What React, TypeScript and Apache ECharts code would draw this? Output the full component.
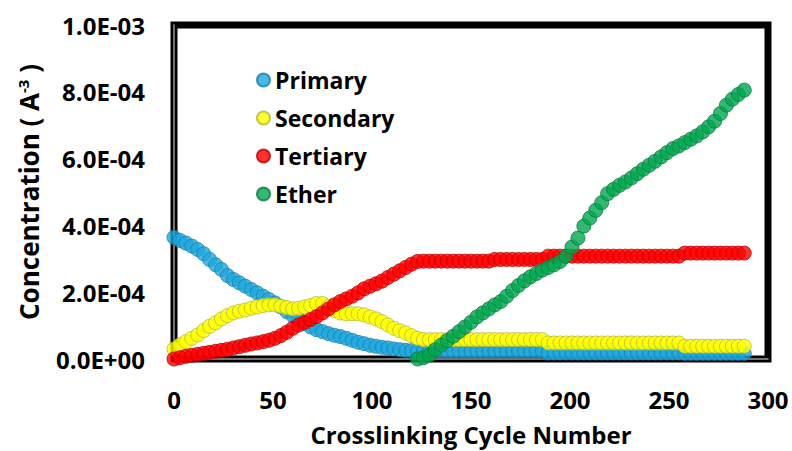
import React, { useEffect, useRef } from "react";
import * as echarts from "echarts";

const cycles = [
  0, 3, 6, 9, 12, 15, 18, 21, 24, 27, 30, 33, 36, 39, 42, 45, 48, 51, 54, 57,
  60, 63, 66, 69, 72, 75, 78, 81, 84, 87, 90, 93, 96, 99, 102, 105, 108, 111,
  114, 117, 120, 123, 126, 129, 132, 135, 138, 141, 144, 147, 150, 153, 156,
  159, 162, 165, 168, 171, 174, 177, 180, 183, 186, 189, 192, 195, 198, 201,
  204, 207, 210, 213, 216, 219, 222, 225, 228, 231, 234, 237, 240, 243, 246,
  249, 252, 255, 258, 261, 264, 267, 270, 273, 276, 279, 282, 285, 288,
];

// values in units of 1e-4 A^-3
const primary = [
  3.64, 3.55, 3.47, 3.38, 3.28, 3.15, 2.98, 2.82, 2.68, 2.5, 2.38, 2.28, 2.18,
  2.08, 1.98, 1.88, 1.78, 1.68, 1.56, 1.42, 1.3, 1.18, 1.06, 0.96, 0.88, 0.82,
  0.76, 0.71, 0.67, 0.62, 0.56, 0.5, 0.46, 0.41, 0.38, 0.35, 0.33, 0.3, 0.28,
  0.26, 0.25, 0.24, 0.24, 0.24, 0.24, 0.24, 0.24, 0.24, 0.24, 0.24, 0.24, 0.24,
  0.24, 0.24, 0.24, 0.24, 0.24, 0.24, 0.24, 0.24, 0.24, 0.24, 0.24, 0.18,
  0.18, 0.18, 0.18, 0.18, 0.18, 0.18, 0.18, 0.18, 0.18, 0.18, 0.18, 0.18,
  0.18, 0.18, 0.18, 0.18, 0.18, 0.18, 0.18, 0.18, 0.18, 0.18, 0.17, 0.17,
  0.17, 0.17, 0.17, 0.17, 0.17, 0.17, 0.17, 0.17, 0.17,
];

const secondary = [
  0.3, 0.42, 0.52, 0.62, 0.72, 0.85, 0.98, 1.08, 1.2, 1.3, 1.38, 1.43, 1.47,
  1.52, 1.56, 1.6, 1.62, 1.62, 1.58, 1.54, 1.5, 1.52, 1.56, 1.6, 1.66, 1.66,
  1.58, 1.45, 1.38, 1.35, 1.36, 1.35, 1.32, 1.26, 1.2, 1.12, 1.02, 0.92, 0.85,
  0.78, 0.7, 0.62, 0.58, 0.58, 0.58, 0.58, 0.58, 0.58, 0.58, 0.58, 0.58, 0.58,
  0.58, 0.58, 0.58, 0.58, 0.58, 0.58, 0.58, 0.58, 0.58, 0.58, 0.58, 0.48,
  0.48, 0.48, 0.48, 0.48, 0.48, 0.48, 0.48, 0.48, 0.48, 0.48, 0.48, 0.48,
  0.48, 0.48, 0.48, 0.48, 0.48, 0.48, 0.48, 0.48, 0.48, 0.48, 0.38, 0.38,
  0.38, 0.38, 0.38, 0.38, 0.38, 0.38, 0.38, 0.38, 0.38,
];

const tertiary = [
  0.0, 0.04, 0.08, 0.11, 0.14, 0.17, 0.2, 0.23, 0.26, 0.29, 0.33, 0.37, 0.41,
  0.45, 0.48, 0.52, 0.56, 0.62, 0.7, 0.8, 0.92, 1.02, 1.1, 1.18, 1.27, 1.38,
  1.5, 1.62, 1.72, 1.8, 1.88, 1.98, 2.1, 2.18, 2.25, 2.33, 2.44, 2.54, 2.64,
  2.74, 2.84, 2.92, 2.93, 2.93, 2.93, 2.93, 2.93, 2.93, 2.93, 2.93, 2.93, 2.93,
  2.93, 2.93, 2.98, 2.98, 2.98, 2.98, 2.98, 2.98, 2.98, 2.98, 2.98, 3.08,
  3.08, 3.08, 3.08, 3.08, 3.08, 3.08, 3.08, 3.08, 3.08, 3.08, 3.08, 3.08,
  3.08, 3.08, 3.08, 3.08, 3.08, 3.08, 3.08, 3.08, 3.08, 3.08, 3.17, 3.17,
  3.17, 3.17, 3.17, 3.17, 3.17, 3.17, 3.17, 3.17, 3.17,
];

const ether = [
  null, null, null, null, null, null, null, null, null, null, null, null, null,
  null, null, null, null, null, null, null, null, null, null, null, null, null,
  null, null, null, null, null, null, null, null, null, null, null, null, null,
  null, null, 0.0, 0.04, 0.12, 0.28, 0.42, 0.55, 0.68, 0.82, 0.96, 1.1, 1.26,
  1.38, 1.5, 1.62, 1.72, 1.88, 2.05, 2.2, 2.34, 2.46, 2.56, 2.66, 2.74, 2.82,
  2.92, 3.08, 3.35, 3.62, 3.98, 4.22, 4.45, 4.68, 4.95, 5.08, 5.2, 5.3, 5.42,
  5.55, 5.68, 5.8, 5.92, 6.05, 6.18, 6.3, 6.38, 6.48, 6.58, 6.68, 6.8, 6.95,
  7.12, 7.35, 7.6, 7.78, 7.92, 8.05,
];

const seriesNames = ["Primary", "Secondary", "Tertiary", "Ether"];
const seriesColors = ["#1ba6dc", "#ffff00", "#ff0000", "#00a650"];
const seriesBorders = ["#1a7fae", "#b8b830", "#c00000", "#0b7a3c"];
const xTicks = [0, 50, 100, 150, 200, 250, 300];

const FONT = "'Open Sans', sans-serif";

function fmtExp(v: number): string {
  if (v === 0) return "0.0E+00";
  const s = v.toExponential(1).toUpperCase();
  const m = s.match(/^(-?[\d.]+)E([+-])(\d+)$/);
  if (!m) return s;
  return `${m[1]}E${m[2]}${m[3].padStart(2, "0")}`;
}

export default function App() {
  const ref = useRef<HTMLDivElement>(null);
  useEffect(() => {
    if (!ref.current) return;
    const chart = echarts.init(ref.current, undefined, { renderer: "svg" });
    const all = [primary, secondary, tertiary, ether];
    chart.setOption({
      animation: false,
      backgroundColor: "#ffffff",
      grid: {
        left: 174,
        right: 24,
        top: 25,
        bottom: 88,
        show: true,
        borderColor: "#000000",
        borderWidth: 7,
        backgroundColor: "transparent",
      },
      legend: {
        orient: "vertical",
        left: 251,
        top: 63,
        icon: "circle",
        itemWidth: 13,
        itemHeight: 13,
        itemGap: 14,
        textStyle: {
          fontFamily: FONT,
          fontWeight: "bold",
          fontSize: 23,
          color: "#000",
          lineHeight: 24,
        },
        data: seriesNames,
      },
      xAxis: {
        type: "value",
        min: 0,
        max: 300,
        interval: 50,
        name: "Crosslinking Cycle Number",
        nameLocation: "middle",
        nameGap: 63,
        nameTextStyle: {
          fontFamily: FONT,
          fontWeight: "bold",
          fontSize: 24,
          color: "#000",
        },
        axisLine: { show: true, lineStyle: { color: "#9a9a9a", width: 1.5 } },
        axisTick: { show: false },
        splitLine: { show: false },
        axisLabel: {
          margin: 28,
          fontFamily: FONT,
          fontWeight: "bold",
          fontSize: 24,
          color: "#000",
          formatter: (v: number) => (xTicks.includes(v) ? String(v) : ""),
        },
      },
      yAxis: {
        type: "value",
        min: 0,
        max: 0.001,
        interval: 0.0002,
        name: "{n|Concentration ( A}{s|-3}{n| )}",
        nameLocation: "middle",
        nameGap: 132,
        nameTextStyle: {
          rich: {
            n: {
              fontFamily: FONT,
              fontWeight: "bold",
              fontSize: 26,
              color: "#000",
            },
            s: {
              fontFamily: FONT,
              fontWeight: "bold",
              fontSize: 15,
              color: "#000",
              verticalAlign: "top",
              padding: [0, 0, 12, 0],
            },
          },
        },
        axisLine: { show: true, lineStyle: { color: "#9a9a9a", width: 1.5 } },
        axisTick: { show: false },
        splitLine: { show: false },
        axisLabel: {
          margin: 29,
          fontFamily: FONT,
          fontWeight: "bold",
          fontSize: 24,
          color: "#000",
          formatter: (v: number) => fmtExp(v),
        },
      },
      series: seriesNames.map((name, i) => ({
        name,
        type: "scatter",
        symbol: "circle",
        symbolSize: 14,
        itemStyle: {
          color: seriesColors[i],
          borderColor: seriesBorders[i],
          borderWidth: 1,
        },
        data: cycles
          .map((c, k) => [c, all[i][k]])
          .filter((p) => p[1] !== null && p[1] !== undefined)
          .map((p) => [p[0], (p[1] as number) * 1e-4]),
      })),
    });
    return () => chart.dispose();
  }, []);
  return (
    <div
      ref={ref}
      style={{ position: "fixed", left: 0, top: 0, width: 792, height: 451 }}
    />
  );
}
